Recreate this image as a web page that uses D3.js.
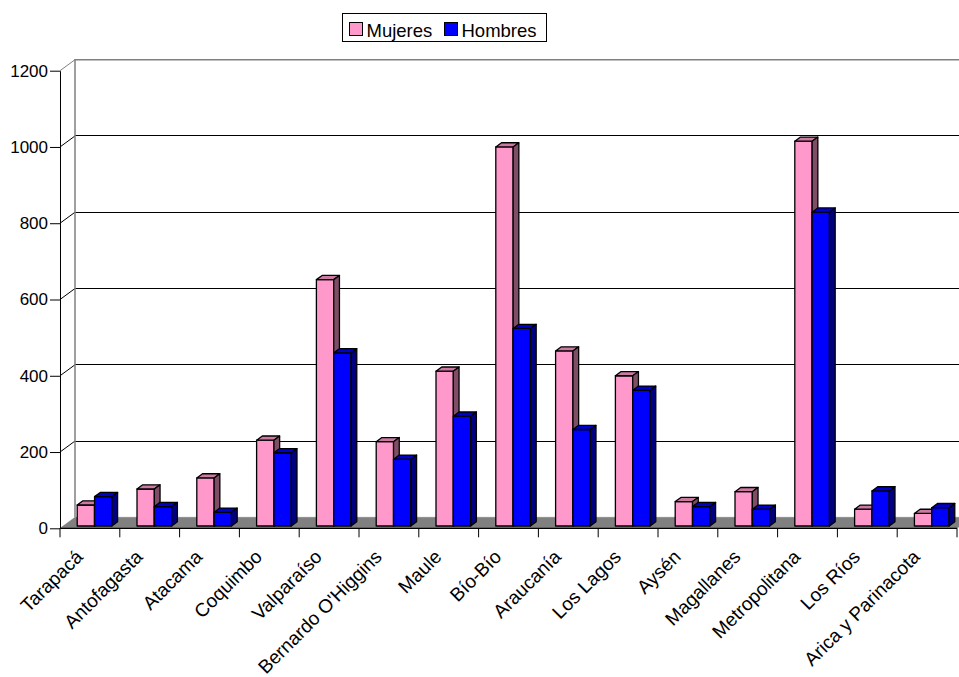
<!DOCTYPE html>
<html>
<head>
<meta charset="utf-8">
<script src="https://cdn.jsdelivr.net/npm/d3@7"></script>
<style>
  html, body { margin: 0; padding: 0; background: #fff; }
  svg { display: block; font-family: "Liberation Sans", Arial, sans-serif; }
</style>
</head>
<body>
<svg id="chart" width="959" height="677"></svg>
<script>
// Regions and counts by sex
const categories = ["Tarapacá", "Antofagasta", "Atacama", "Coquimbo", "Valparaíso",
  "Bernardo O'Higgins", "Maule", "Bío-Bío", "Araucanía", "Los Lagos", "Aysén",
  "Magallanes", "Metropolitana", "Los Ríos", "Arica y Parinacota"];
const mujeres = [55, 97, 126, 225, 646, 221, 406, 994, 459, 394, 64, 90, 1009, 44, 33];
const hombres = [77, 51, 36, 192, 454, 175, 288, 518, 253, 356, 51, 44, 823, 92, 48];
const seriesNames = ["Mujeres", "Hombres"];
const yTicks = [0, 200, 400, 600, 800, 1000, 1200];

const series = [
  { name: seriesNames[0], values: mujeres, front: "#FF99CC", top: "#CC7AA3", side: "#804D66" },
  { name: seriesNames[1], values: hombres, front: "#0000FF", top: "#0000CC", side: "#000080" }
];

const svg = d3.select("#chart");

// Front plane geometry and the oblique depth of the floor/walls
const x = d3.scaleBand().domain(categories).range([60, 957]).padding(0);
const y = d3.scaleLinear().domain([0, 1200]).range([528.3, 70.7]);
const DX = 15, DY = 11;                 // full depth offset
const proj = (px, py, d) => [px + DX * d, py - DY * d];

const plot = svg.append("g");

// Back wall gridlines
const y0 = y(0), yTop = y(1200);
plot.append("g").selectAll("line.grid")
  .data(yTicks.filter(t => t > 0 && t < 1200))
  .join("line")
  .attr("x1", 60 + DX).attr("x2", 957 + DX)
  .attr("y1", d => y(d) - DY).attr("y2", d => y(d) - DY)
  .attr("stroke", "#000").attr("stroke-width", 1)
  .attr("shape-rendering", "crispEdges");

// Diagonals on the side wall from each y tick to the back wall
plot.append("g").selectAll("line.diag")
  .data(yTicks.filter(t => t > 0))
  .join("line")
  .attr("x1", 60).attr("y1", d => y(d))
  .attr("x2", 60 + DX).attr("y2", d => y(d) - DY)
  .attr("stroke", d => d === 1200 ? "#808080" : "#000").attr("stroke-width", 1);

// Back wall outline
plot.append("path")
  .attr("d", `M${60 + DX},${y0 - DY}V${yTop - DY}H${957 + DX}`)
  .attr("fill", "none").attr("stroke", "#808080").attr("stroke-width", 1.5);

// Floor
const floorPts = [proj(60, y0, 0), proj(957, y0, 0), proj(957, y0, 1), proj(60, y0, 1)];
plot.append("polygon")
  .attr("points", floorPts.map(p => p.join(",")).join(" "))
  .attr("fill", "#808080").attr("stroke", "#808080").attr("stroke-width", 0.5);

// Bars as oblique 3D blocks
const bw = x.bandwidth();
const barW = bw * 0.29, barOff = bw * 0.235;
const d0 = 0.21, dd = 0.38;
const bdx = DX * dd, bdy = DY * dd;

const bars = plot.append("g");
categories.forEach((c, i) => {
  series.forEach((s, k) => {
    const v = s.values[i];
    const [fx, fb] = proj(x(c) + barOff + k * barW, y0, d0);
    const ft = y(v) - DY * d0;
    const g = bars.append("g")
      .attr("stroke", "#000").attr("stroke-width", 1.3).attr("stroke-linejoin", "round");
    g.append("rect")
      .attr("x", fx).attr("y", ft).attr("width", barW).attr("height", fb - ft)
      .attr("fill", s.front);
    g.append("polygon")
      .attr("points", [[fx, ft], [fx + barW, ft], [fx + barW + bdx, ft - bdy], [fx + bdx, ft - bdy]]
        .map(p => p.join(",")).join(" "))
      .attr("fill", s.top);
    g.append("polygon")
      .attr("points", [[fx + barW, ft], [fx + barW + bdx, ft - bdy], [fx + barW + bdx, fb - bdy], [fx + barW, fb]]
        .map(p => p.join(",")).join(" "))
      .attr("fill", s.side);
  });
});

// Y axis
const yAxis = d3.axisLeft(y).tickValues(yTicks).tickFormat(d3.format("d"))
  .tickSize(10).tickPadding(2).tickSizeOuter(0);
const gy = svg.append("g").attr("transform", "translate(60,0)").call(yAxis);
gy.selectAll("text").attr("font-size", 17).attr("fill", "#000")
  .attr("font-family", "'Liberation Sans', Arial, sans-serif");
gy.selectAll("line, path").attr("stroke", "#000");

// X axis: baseline, boundary ticks, rotated labels
const gx = svg.append("g");
gx.append("line").attr("x1", 60).attr("x2", 957).attr("y1", y0).attr("y2", y0)
  .attr("stroke", "#000").attr("stroke-width", 1.3);
const bounds = categories.map(c => x(c)).concat([x.range()[1]]);
gx.selectAll("line.tick").data(bounds).join("line")
  .attr("x1", d => d).attr("x2", d => d).attr("y1", y0).attr("y2", y0 + 9)
  .attr("stroke", "#000").attr("stroke-width", 1);
gx.selectAll("text").data(categories).join("text")
  .attr("transform", c => `translate(${x(c) + bw / 2 - 6},${558}) rotate(-45)`)
  .attr("text-anchor", "end")
  .attr("font-size", 19)
  .text(c => c);

// Legend
const lg = svg.append("g");
lg.append("rect").attr("x", 342.5).attr("y", 13.5).attr("width", 204).attr("height", 28)
  .attr("fill", "#fff").attr("stroke", "#000").attr("stroke-width", 1);
const legX = [349, 444];
series.forEach((s, k) => {
  lg.append("rect").attr("x", legX[k] + 0.5).attr("y", 22.5).attr("width", 13).attr("height", 13)
    .attr("fill", s.front).attr("stroke", "#000").attr("stroke-width", 1);
  lg.append("text").attr("x", legX[k] + 17.5).attr("y", 36.5)
    .attr("font-size", 18.5).text(s.name);
});
</script>
</body>
</html>
